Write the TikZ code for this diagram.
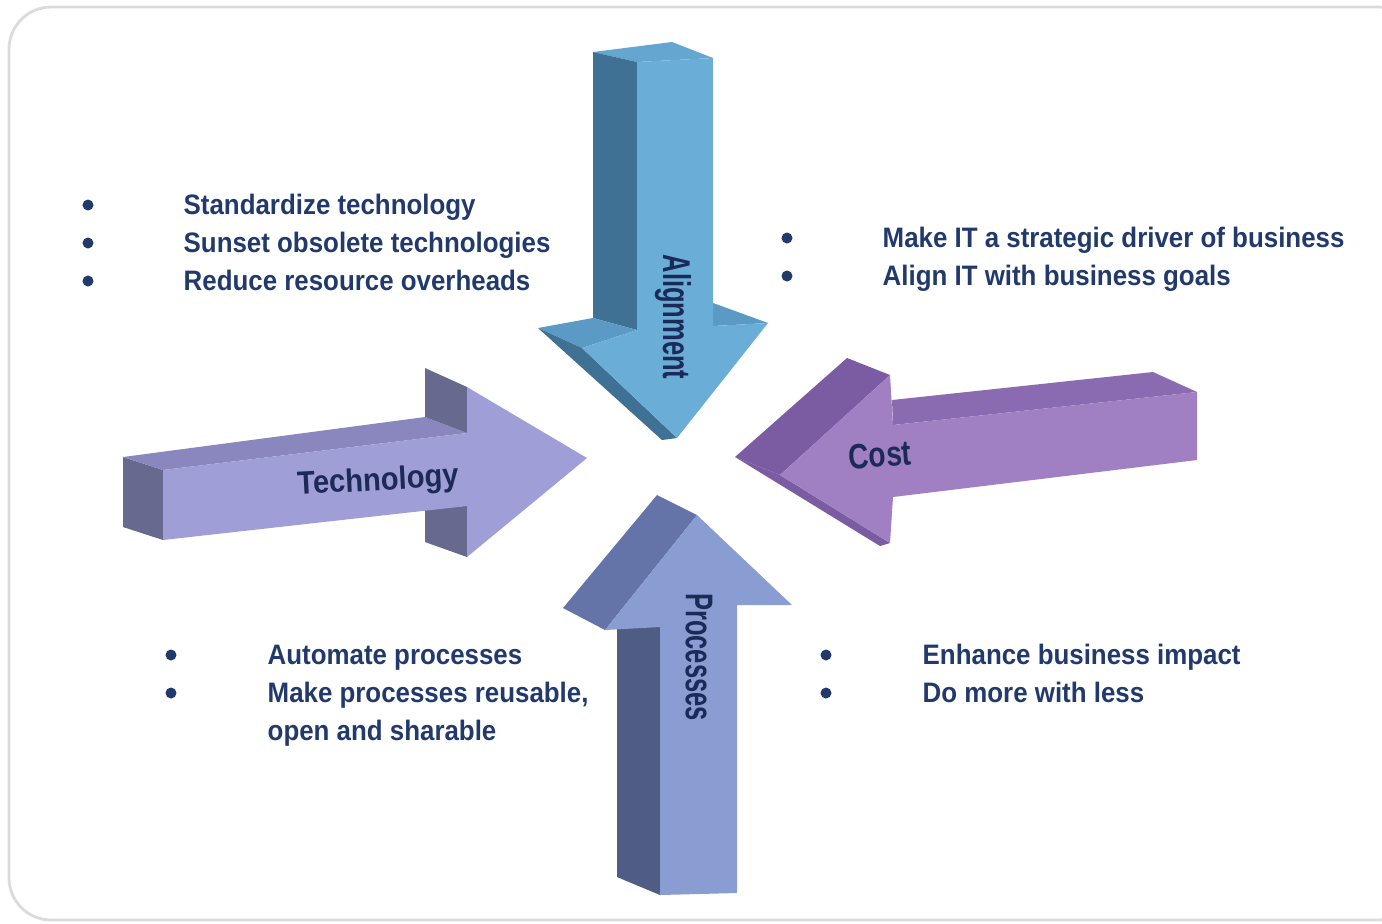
\documentclass[tikz,border=0pt]{standalone}
\usepackage{fontspec}
\setmainfont{Liberation Sans}
\newfontfamily\narrowfont{Liberation Sans}[FakeStretch=0.92]
\usepackage{tikz}
\definecolor{navy}{HTML}{213A6B}
\definecolor{labelnavy}{HTML}{1C2A58}
\definecolor{alignFront}{HTML}{6AAED8}
\definecolor{alignDark}{HTML}{3F7195}
\definecolor{alignMid}{HTML}{5A9AC4}
\definecolor{alignTop}{HTML}{64A6D0}
\definecolor{techFront}{HTML}{A09ED6}
\definecolor{techDark}{HTML}{67698F}
\definecolor{techMid}{HTML}{8987BE}
\definecolor{costFront}{HTML}{A07FC2}
\definecolor{costDark}{HTML}{7B5CA3}
\definecolor{costMid}{HTML}{8A6AB0}
\definecolor{procFront}{HTML}{8A9DD3}
\definecolor{procDark}{HTML}{4F5D85}
\definecolor{procMid}{HTML}{6474A9}

\begin{document}
\begin{tikzpicture}
  [x=0.01cm,y=-0.01cm,
   item/.style={anchor=base west,inner sep=0pt,text=navy,
                font=\narrowfont\bfseries\fontsize{8}{10}\selectfont},
   dot/.style={circle,fill=navy,inner sep=0pt,minimum size=0.11cm},
   arrowlabel/.style={inner sep=0pt,text=labelnavy,font=\bfseries\fontsize{11}{13}\selectfont}]
  \useasboundingbox (0,0) rectangle (1382,923);
  \clip (0,0) rectangle (1382,923);
  \draw[black!14,line width=0.8pt,rounded corners=12] (9,7) rectangle (1420,920);

  \fill[alignTop]   (593,52) -- (672,42) -- (713,58) -- (637,62) -- cycle;
  \fill[alignDark]  (593,52) -- (637,62) -- (637,330) -- (593,318) -- cycle;
  \fill[alignMid]   (538,328) -- (593,318) -- (637,330) -- (582,348) -- cycle;
  \fill[alignMid]   (713,303) -- (768,323) -- (713,326) -- cycle;
  \fill[alignDark]  (538,328) -- (582,348) -- (677,438) -- (662,440) -- cycle;
  \fill[alignFront] (637,62) -- (713,58) -- (713,326) -- (768,323) -- (677,438)
                    -- (582,348) -- (637,330) -- cycle;

  \fill[techDark]   (123,457) -- (163,470) -- (163,540) -- (123,527) -- cycle;
  \fill[techMid]    (123,457) -- (425,417) -- (467,433) -- (163,470) -- cycle;
  \fill[techDark]   (425,368) -- (467,387) -- (467,433) -- (425,417) -- cycle;
  \fill[techDark]   (425,508) -- (467,506) -- (467,557) -- (425,542) -- cycle;
  \fill[techFront]  (163,470) -- (467,433) -- (467,387) -- (587,458) -- (467,557)
                    -- (467,506) -- (163,540) -- cycle;

  \fill[costDark]   (735,457) -- (847,358) -- (890,375) -- (780,475) -- cycle;
  \fill[costDark]   (735,457) -- (780,475) -- (890,543) -- (880,546) -- cycle;
  \fill[costMid]    (892,400) -- (1153,372) -- (1197,392) -- (893,425) -- cycle;
  \fill[costFront]  (890,375) -- (893,425) -- (1197,392) -- (1197,460) -- (893,497)
                    -- (890,543) -- (780,475) -- cycle;

  \fill[procMid]    (563,608) -- (657,495) -- (697,515) -- (605,630) -- cycle;
  \fill[procDark]   (617,625) -- (660,627) -- (660,895) -- (617,877) -- cycle;
  \fill[procFront]  (697,515) -- (792,605) -- (737,605) -- (737,893) -- (660,895)
                    -- (660,627) -- (605,630) -- cycle;

  \node[arrowlabel,rotate=-90,xscale=0.66] (alignment) at (673,317) {Alignment};
  \node[arrowlabel,rotate=-90,xscale=0.66] (processes) at (699,657) {Processes};
  \node[arrowlabel,rotate=3,xscale=0.9,font=\bfseries\fontsize{9.2}{11}\selectfont] (technology) at (378,482) {Technology};
  \node[arrowlabel,rotate=4,xscale=0.8,font=\bfseries\fontsize{10}{12}\selectfont] (cost) at (880,455) {Cost};

  \foreach \y/\name/\txt in {205/std/Standardize technology,
                             243/sunset/Sunset obsolete technologies,
                             281/reduce/Reduce resource overheads} {
    \node[dot] (d\name) at (88,\y) {};
    \node[item] (t\name) at (183,\y+9) {\txt};
  }
  \foreach \y/\name/\txt in {238/driver/Make IT a strategic driver of business,
                             276/goals/Align IT with business goals} {
    \node[dot] (d\name) at (787,\y) {};
    \node[item] (t\name) at (882,\y+9) {\txt};
  }
  \foreach \y/\name/\txt in {655/automate/Automate processes,
                             693/reuse/{Make processes reusable,}} {
    \node[dot] (d\name) at (171,\y) {};
    \node[item] (t\name) at (267,\y+9) {\txt};
  }
  \node[item] (topen) at (267,740) {open and sharable};
  \foreach \y/\name/\txt in {655/impact/Enhance business impact,
                             693/less/Do more with less} {
    \node[dot] (d\name) at (826,\y) {};
    \node[item] (t\name) at (922,\y+9) {\txt};
  }
\end{tikzpicture}
\end{document}
